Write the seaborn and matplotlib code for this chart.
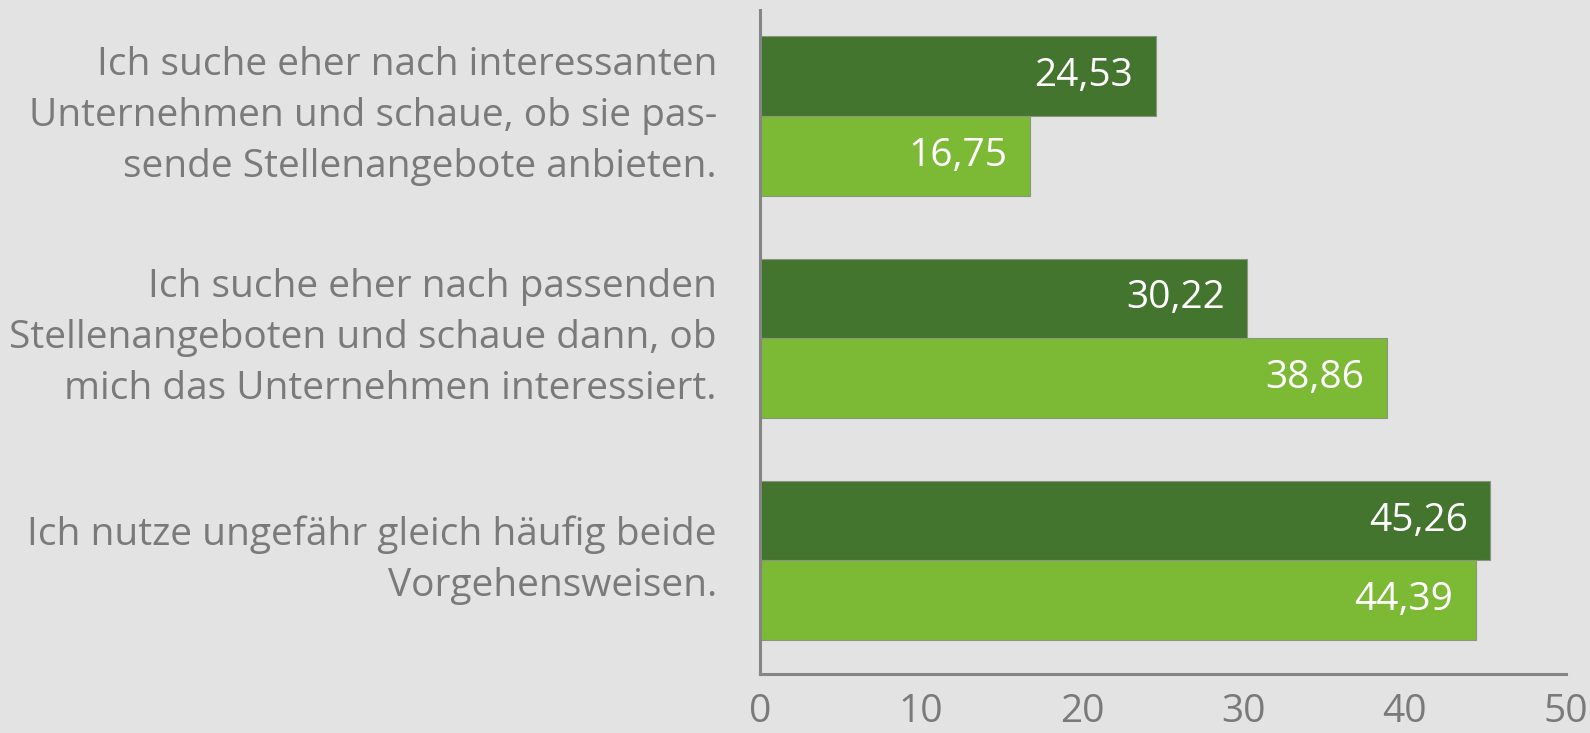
import matplotlib
matplotlib.use("Agg")
import matplotlib.pyplot as plt
import pandas as pd
import seaborn as sns

# Daten
kategorien = [
    "Ich suche eher nach interessanten\nUnternehmen und schaue, ob sie pas-\nsende Stellenangebote anbieten.",
    "Ich suche eher nach passenden\nStellenangeboten und schaue dann, ob\nmich das Unternehmen interessiert.",
    "Ich nutze ungefähr gleich häufig beide\nVorgehensweisen.",
]
serien = ["Gruppe 1", "Gruppe 2"]
werte_gruppe1 = [24.53, 30.22, 45.26]
werte_gruppe2 = [16.75, 38.86, 44.39]
x_ticks = [0, 10, 20, 30, 40, 50]

df = pd.DataFrame({
    "Kategorie": kategorien * 2,
    "Serie": [serien[0]] * 3 + [serien[1]] * 3,
    "Wert": werte_gruppe1 + werte_gruppe2,
})

sns.set_theme(style="white")
plt.rcParams["font.family"] = ["Open Sans", "DejaVu Sans"]

text_farbe = "#7a7a7a"
hintergrund = "#e3e3e3"
farben = ["#43752e", "#7cb934"]

fig = plt.figure(figsize=(15.9, 7.33), dpi=100)
fig.patch.set_facecolor(hintergrund)
ax = fig.add_axes([0.478, 0.0805, 0.507, 0.9055])
ax.set_facecolor(hintergrund)

sns.barplot(data=df, x="Wert", y="Kategorie", hue="Serie", orient="h",
            palette=farben, width=0.717, gap=0, legend=False, ax=ax,
            edgecolor="#8a9680", linewidth=0.8, saturation=1)

# Werte in die Balken schreiben
for container in ax.containers:
    labels = [f"{b.get_width():.2f}".replace(".", ",") for b in container]
    texte = ax.bar_label(container, labels=labels, padding=-16,
                         color="white", fontsize=28)
    for t in texte:
        t.set_ha("right")

ax.set_xlim(0, 50)
ax.set_ylim(2.511, -0.476)
ax.set_xticks(x_ticks)
ax.set_xticklabels([str(t) for t in x_ticks])
ax.set_xlabel("")
ax.set_ylabel("")

ax.tick_params(axis="x", length=0, pad=14, labelsize=28, labelcolor=text_farbe)
ax.tick_params(axis="y", length=0, pad=31, labelsize=28, labelcolor=text_farbe)
for t in ax.get_yticklabels():
    t.set_linespacing(1.45)
    t.set_va("center")

sns.despine(ax=ax, top=True, right=True)
for s in ["left", "bottom"]:
    ax.spines[s].set_color("#858585")
    ax.spines[s].set_linewidth(2.2)

plt.savefig("out.png", dpi=100, facecolor=hintergrund)
plt.close()
